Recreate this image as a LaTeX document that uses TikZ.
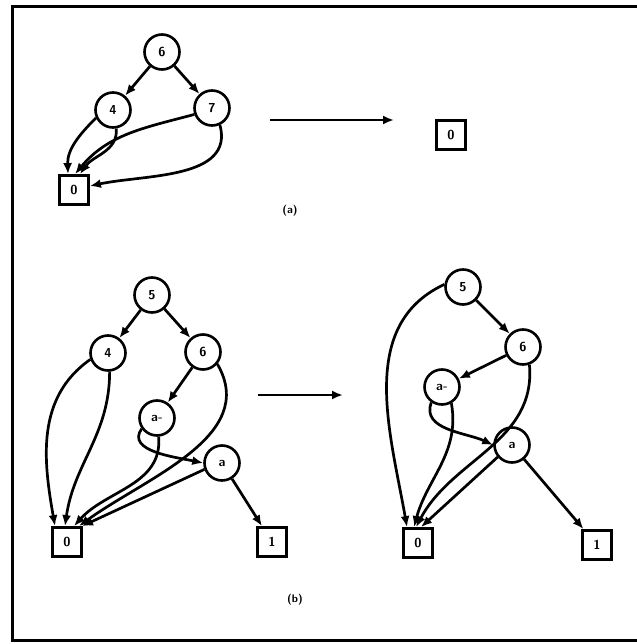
\documentclass[tikz,border=0pt]{standalone}
\usetikzlibrary{arrows.meta}
\begin{document}
\begin{tikzpicture}[x=1pt,y=-1pt,
  vnode/.style={circle,draw,line width=2.6pt,minimum size=35pt,inner sep=0pt,font=\fontsize{13}{15}\selectfont\sffamily\bfseries},
  tnode/.style={rectangle,draw,line width=2.8pt,minimum size=29pt,inner sep=0pt,font=\fontsize{13}{15}\selectfont\sffamily\bfseries},
  edge/.style={line width=2.7pt,-{Latex[length=11pt,width=9pt]}},
  lbl/.style={font=\fontsize{11}{13}\selectfont\sffamily\bfseries}]
\useasboundingbox (0,0) rectangle (636,644);
% frame
\draw[line width=3pt] (650,7) -- (12,7) -- (12,640) -- (650,640);

% ---------- (a) ----------
\node[vnode] (a6) at (162,52) {6};
\node[vnode] (a4) at (113,110) {4};
\node[vnode] (a7) at (212,108) {7};
\node[tnode] (a0) at (74,190) {0};
\node[tnode] (ar0) at (451,135) {0};
\coordinate (aarS) at (270,120);
\coordinate (aarE) at (394,120);
\draw[edge] (a6) -- (a4);
\draw[edge] (a6) -- (a7);
\draw[edge] (a4.205) to[out=225,in=92] ([xshift=-6pt]a0.north);
\draw[edge] (a4.280) to[out=-85,in=55] ([xshift=6pt]a0.north);
\draw[edge] (a7.200) to[out=195,in=50] ([xshift=1pt]a0.north);
\draw[edge] (a7.295) to[out=-75,in=12] ([yshift=4pt]a0.east);
\draw[edge] (aarS) -- (aarE);
\node[lbl] (la) at (290,211) {(a)};

% ---------- (b) left ----------
\node[vnode] (l5) at (152,295) {5};
\node[vnode] (l4) at (108,353) {4};
\node[vnode] (l6) at (203,352) {6};
\node[vnode] (lam) at (157,418) {a-};
\node[vnode] (la1) at (222,463) {a};
\node[tnode] (l0) at (67,542) {0};
\node[tnode] (l1) at (272,542) {1};
\draw[edge] (l5) -- (l4);
\draw[edge] (l5) -- (l6);
\draw[edge] (l4.200) to[out=215,in=100] ([xshift=-12pt]l0.north);
\draw[edge] (l4.275) to[out=-90,in=82] ([xshift=-2pt]l0.north);
\draw[edge] (l6) -- (lam);
\draw[edge] (l6.320) to[out=-60,in=36] ([xshift=12pt]l0.north);
\draw[edge] (lam.215) to[out=235,in=168] (la1.west);
\draw[edge] (lam.275) to[out=-85,in=48] ([xshift=7pt]l0.north);
\draw[edge] (la1.200) -- ([xshift=15pt]l0.north);
\draw[edge] (la1) -- (l1);
\coordinate (barS) at (258,395);
\coordinate (barE) at (343,395);
\draw[edge] (barS) -- (barE);

% ---------- (b) right ----------
\node[vnode] (r5) at (463,287) {5};
\node[vnode] (r6) at (523,347) {6};
\node[vnode] (ram) at (442,387) {a-};
\node[vnode] (ra1) at (512,445) {a};
\node[tnode] (r0) at (418,543) {0};
\node[tnode] (r1) at (597,545) {1};
\draw[edge] (r5) -- (r6);
\draw[edge] (r5.172) to[out=205,in=100] ([xshift=-11pt]r0.north);
\draw[edge] (r6) -- (ram);
\draw[edge] (r6.290) to[out=-85,in=62] ([xshift=-2pt]r0.north);
\draw[edge] (ram.235) to[out=250,in=155] (ra1.west);
\draw[edge] (ram.300) to[out=-80,in=75] ([xshift=-4pt]r0.north);
\draw[edge] (ra1.220) -- ([xshift=3pt]r0.north);
\draw[edge] (ra1) -- (r1);
\node[lbl] (lb) at (295,600) {(b)};
\end{tikzpicture}
\end{document}
